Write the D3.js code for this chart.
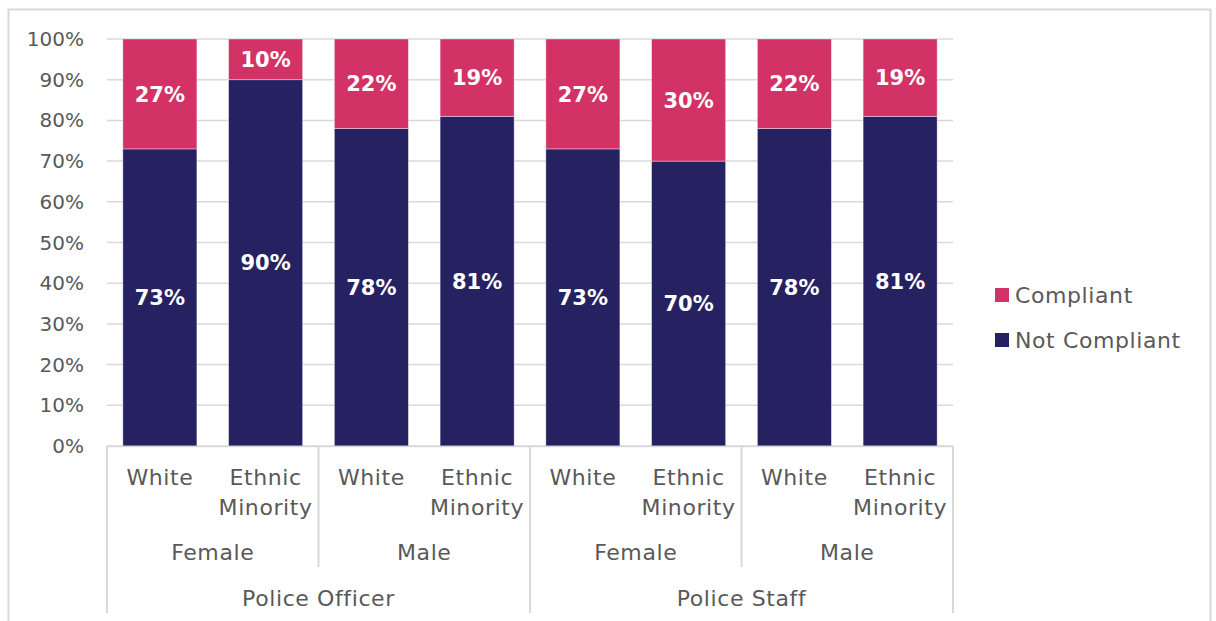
<!DOCTYPE html>
<html>
<head>
<meta charset="utf-8">
<script src="https://cdn.jsdelivr.net/npm/d3@7"></script>
<style>
  body { margin: 0; background: #fff; }
  svg { display: block; font-family: "DejaVu Sans", sans-serif; }
</style>
</head>
<body>
<svg width="1216" height="621"></svg>
<script>
var roles = ['Police Officer', 'Police Staff'];
var genders = ['Female', 'Male'];
var ethnicities = [['White'], ['Ethnic', 'Minority']];
var notCompliant = [73, 90, 78, 81, 73, 70, 78, 81];
var compliant = [27, 10, 22, 19, 27, 30, 22, 19];
var yTicks = [0, 10, 20, 30, 40, 50, 60, 70, 80, 90, 100];
var seriesNames = ['Compliant', 'Not Compliant'];

var colors = { 'Compliant': '#d33266', 'Not Compliant': '#262262' };
var textColor = '#595959';
var lineColor = '#d9d9d9';
var catSize = 22, catSpacing = 0.6;

var svg = d3.select('svg');

// outer frame
svg.append('rect')
    .attr('x', 8.5).attr('y', 9.5)
    .attr('width', 1202).attr('height', 700)
    .attr('fill', 'none')
    .attr('stroke', lineColor)
    .attr('stroke-width', 2);

var bars = [];
roles.forEach(function(r, ri) {
    genders.forEach(function(g, gi) {
        ethnicities.forEach(function(e, ei) {
            var i = bars.length;
            bars.push({ i: i, role: r, gender: g, eth: e,
                'Not Compliant': notCompliant[i], 'Compliant': compliant[i] });
        });
    });
});

var xScale = d3.scaleBand()
    .domain(bars.map(function(d) { return d.i; }))
    .range([107, 953])
    .paddingInner(0.3)
    .paddingOuter(0.15);

var yScale = d3.scaleLinear()
    .domain([0, 100])
    .range([446, 39]);

// gridlines
svg.append('g')
    .selectAll('line')
    .data(yTicks)
    .enter().append('line')
    .attr('x1', 107).attr('x2', 953)
    .attr('y1', function(d) { return yScale(d); })
    .attr('y2', function(d) { return yScale(d); })
    .attr('stroke', lineColor)
    .attr('stroke-width', 1.5);

// y tick labels
svg.append('g')
    .selectAll('text')
    .data(yTicks)
    .enter().append('text')
    .attr('x', 84)
    .attr('y', function(d) { return yScale(d); })
    .attr('dy', '0.35em')
    .attr('text-anchor', 'end')
    .attr('font-size', 20)
    .attr('fill', textColor)
    .text(function(d) { return d + '%'; });

// stacked bars
var stack = d3.stack().keys(['Not Compliant', 'Compliant']);
var layers = stack(bars);

var layer = svg.append('g')
    .selectAll('g')
    .data(layers)
    .enter().append('g')
    .attr('fill', function(d) { return colors[d.key]; });

layer.selectAll('rect')
    .data(function(d) { return d; })
    .enter().append('rect')
    .attr('x', function(d) { return xScale(d.data.i); })
    .attr('width', xScale.bandwidth())
    .attr('y', function(d) { return yScale(d[1]); })
    .attr('height', function(d) { return yScale(d[0]) - yScale(d[1]); })
    .attr('stroke', '#ffffff')
    .attr('stroke-opacity', 0.5)
    .attr('stroke-width', 0.75);

layer.selectAll('text')
    .data(function(d) { return d; })
    .enter().append('text')
    .attr('x', function(d) { return xScale(d.data.i) + xScale.bandwidth() / 2; })
    .attr('y', function(d) { return (yScale(d[0]) + yScale(d[1])) / 2; })
    .attr('dy', '0.36em')
    .attr('text-anchor', 'middle')
    .attr('font-size', 21)
    .attr('font-weight', 'bold')
    .attr('fill', '#ffffff')
    .text(function(d) { return Math.round(d[1] - d[0]) + '%'; });

// multi-level x axis
var step = xScale.step();
var x0 = xScale.range()[0];
var axis = svg.append('g')
    .attr('font-size', catSize)
    .attr('letter-spacing', catSpacing)
    .attr('fill', textColor)
    .attr('text-anchor', 'middle');

axis.append('line')
    .attr('x1', x0).attr('x2', xScale.range()[1])
    .attr('y1', 446.5).attr('y2', 446.5)
    .attr('stroke', lineColor).attr('stroke-width', 1.5);

// separators: gender boundaries short, role boundaries long
d3.range(0, bars.length + 1, 2).forEach(function(k) {
    var xb = x0 + k * step;
    var long = (k % 4 === 0);
    axis.append('line')
        .attr('x1', xb).attr('x2', xb)
        .attr('y1', 446).attr('y2', long ? 613 : 567)
        .attr('stroke', lineColor).attr('stroke-width', 2);
});

// ethnicity labels
axis.selectAll('text.eth')
    .data(bars)
    .enter().append('text')
    .attr('class', 'eth')
    .attr('x', function(d) { return xScale(d.i) + xScale.bandwidth() / 2; })
    .attr('y', 477)
    .each(function(d) {
        var t = d3.select(this);
        d.eth.forEach(function(line, li) {
            t.append('tspan')
                .attr('x', xScale(d.i) + xScale.bandwidth() / 2)
                .attr('dy', li === 0 ? '0.35em' : 30)
                .text(line);
        });
    });

// gender labels
var genderGroups = d3.range(0, bars.length, 2).map(function(k) { return bars[k]; });
axis.selectAll('text.gender')
    .data(genderGroups)
    .enter().append('text')
    .attr('class', 'gender')
    .attr('x', function(d) { return x0 + (d.i + 1) * step; })
    .attr('y', 552)
    .attr('dy', '0.35em')
    .text(function(d) { return d.gender; });

// role labels
axis.selectAll('text.role')
    .data(roles)
    .enter().append('text')
    .attr('class', 'role')
    .attr('x', function(d, i) { return x0 + (i * 4 + 2) * step; })
    .attr('y', 598)
    .attr('dy', '0.35em')
    .text(function(d) { return d; });

// legend
var legend = svg.append('g')
    .selectAll('g')
    .data(seriesNames)
    .enter().append('g')
    .attr('transform', function(d, i) { return 'translate(995,' + (295 + i * 45) + ')'; });

legend.append('rect')
    .attr('x', 0).attr('y', -7)
    .attr('width', 14).attr('height', 14)
    .attr('fill', function(d) { return colors[d]; });

legend.append('text')
    .attr('x', 20)
    .attr('dy', '0.35em')
    .attr('font-size', catSize)
    .attr('letter-spacing', catSpacing)
    .attr('fill', textColor)
    .text(function(d) { return d; });
</script>
</body>
</html>
